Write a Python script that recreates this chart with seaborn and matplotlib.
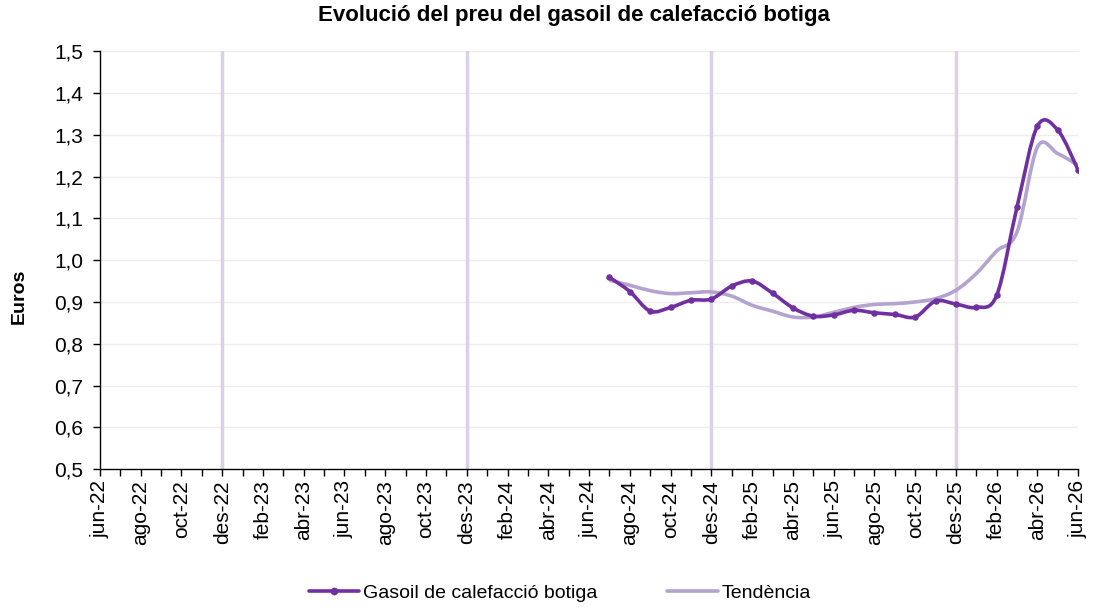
import numpy as np
import pandas as pd
import matplotlib
matplotlib.use('Agg')
import matplotlib.pyplot as plt
import seaborn as sns
from matplotlib.path import Path
from matplotlib.patches import PathPatch
from matplotlib.lines import Line2D

# noms dels mesos en catala
mesos = ['gen', 'feb', 'mar', 'abr', 'mai', 'jun', 'jul', 'ago', 'set', 'oct', 'nov', 'des']
inici = '2022-06'
final = '2026-06'

data_mesos = ['2024-07', '2024-08', '2024-09', '2024-10', '2024-11', '2024-12',
              '2025-01', '2025-02', '2025-03', '2025-04', '2025-05', '2025-06',
              '2025-07', '2025-08', '2025-09', '2025-10', '2025-11', '2025-12',
              '2026-01', '2026-02', '2026-03', '2026-04', '2026-05', '2026-06']
preu = [0.959, 0.925, 0.878, 0.887, 0.904, 0.907,
        0.938, 0.950, 0.921, 0.886, 0.866, 0.869,
        0.880, 0.874, 0.870, 0.864, 0.902, 0.895,
        0.887, 0.916, 1.128, 1.321, 1.311, 1.215]
tendencia = [0.952, 0.940, 0.927, 0.920, 0.922, 0.924,
             0.914, 0.892, 0.878, 0.864, 0.864, 0.875,
             0.887, 0.894, 0.896, 0.900, 0.908, 0.928,
             0.968, 1.022, 1.068, 1.271, 1.255, 1.227]
linies_des = ['2022-12', '2023-12', '2024-12', '2025-12']

color_preu = '#7030A0'
color_tend = '#B3A3CE'

p0 = pd.Period(inici, 'M')
n_mesos = (pd.Period(final, 'M') - p0).n
df = pd.DataFrame({'mes': data_mesos, 'preu': preu, 'tendencia': tendencia})
df['x'] = [(pd.Period(m, 'M') - p0).n for m in df['mes']]


def corba_suau(x, y):
    # corba suavitzada tipus Catmull-Rom (com la linia suau d'Excel)
    pts = np.column_stack([x, y]).astype(float)
    verts = [pts[0]]
    codes = [Path.MOVETO]
    n = len(pts)
    for i in range(n - 1):
        pa = pts[i - 1] if i > 0 else pts[i]
        pb = pts[i + 2] if i + 2 < n else pts[i + 1]
        c1 = pts[i] + (pts[i + 1] - pa) / 6
        c2 = pts[i + 1] - (pb - pts[i]) / 6
        verts += [c1, c2, pts[i + 1]]
        codes += [Path.CURVE4] * 3
    return Path(verts, codes)


sns.set_theme(style='white')
plt.rcParams['font.family'] = ['Liberation Sans', 'DejaVu Sans']
plt.rcParams['text.color'] = 'black'

fig, ax = plt.subplots(figsize=(10.98, 6.10), dpi=100)
fig.subplots_adjust(left=0.091, right=0.982, top=0.916, bottom=0.231)

for v in np.arange(0.6, 1.51, 0.1):
    ax.axhline(v, color='#EDEDED', lw=1, zorder=0)
for m in linies_des:
    ax.axvline((pd.Period(m, 'M') - p0).n, color='#D9D2E7', lw=2.5, zorder=1)

ax.add_patch(PathPatch(corba_suau(df['x'], df['tendencia']), fill=False,
                       edgecolor=color_tend, lw=2.6, zorder=3))
ax.add_patch(PathPatch(corba_suau(df['x'], df['preu']), fill=False,
                       edgecolor=color_preu, lw=2.6, zorder=4))
sns.scatterplot(data=df, x='x', y='preu', color=color_preu, s=22,
                edgecolor=color_preu, linewidth=0, zorder=5, ax=ax)

ax.set_xlim(0, n_mesos)
ax.set_ylim(0.5, 1.5)
ax.set_yticks(np.arange(0.5, 1.51, 0.1))
ax.set_yticklabels([f'{v:.1f}'.replace('.', ',') for v in np.arange(0.5, 1.51, 0.1)])

etiquetes = []
for i in range(n_mesos + 1):
    p = p0 + i
    etiquetes.append(f'{mesos[p.month - 1]}-{p.year % 100:02d}' if i % 2 == 0 else '')
ax.set_xticks(range(n_mesos + 1))
ax.set_xticklabels(etiquetes, rotation=90)

ax.tick_params(axis='both', which='major', direction='out', length=5, width=1,
               color='black', labelsize=15, labelcolor='black', pad=3)
ax.tick_params(axis='x', bottom=True)
ax.tick_params(axis='y', left=True, pad=7)
for s in ['top', 'right']:
    ax.spines[s].set_visible(False)
for s in ['left', 'bottom']:
    ax.spines[s].set_color('black')
    ax.spines[s].set_linewidth(1)

ax.set_xlabel('')
ax.set_ylabel('Euros', fontsize=14, fontweight='bold', color='black')
ax.yaxis.set_label_coords(-0.074, 0.414)
fig.text(0.523, 0.974, 'Evolució del preu del gasoil de calefacció botiga',
         fontsize=16, fontweight='bold', ha='center', va='center')

handles = [Line2D([], [], color=color_preu, lw=2.6, marker='o', markersize=4.5),
           Line2D([], [], color=color_tend, lw=2.6)]
fig.legend(handles, ['Gasoil de calefacció botiga', 'Tendència'], loc='center',
           bbox_to_anchor=(0.51, 0.028), ncol=2, frameon=False, fontsize=14,
           handlelength=2.6, handletextpad=0.2, columnspacing=3.6)

fig.savefig('out.png', dpi=100)
